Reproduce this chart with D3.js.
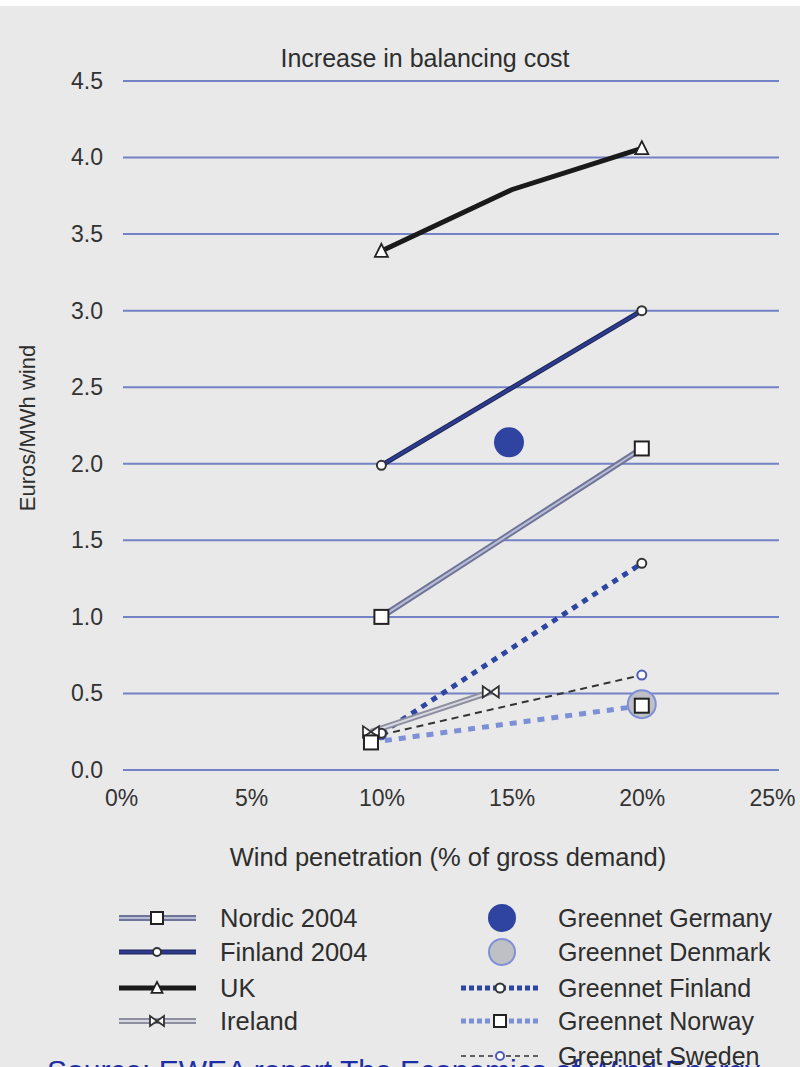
<!DOCTYPE html>
<html><head><meta charset="utf-8">
<script src="https://cdn.jsdelivr.net/npm/d3@7"></script>
<style>
html,body{margin:0;padding:0;background:#fff;}
svg{display:block;}
text{font-family:"Liberation Sans",Arial,sans-serif;}
</style></head>
<body>
<script>
// ---- data ----
const xTicks = [0, 5, 10, 15, 20, 25];
const yTicks = [0, 0.5, 1.0, 1.5, 2.0, 2.5, 3.0, 3.5, 4.0, 4.5];

const nordicX = [10, 20],      nordicY = [1.0, 2.1];
const finlandX = [10, 20],     finlandY = [1.99, 3.0];
const ukX = [10, 15, 20],      ukY = [3.39, 3.79, 4.06];
const irelandX = [9.6, 14.2],  irelandY = [0.25, 0.51];
const germanyX = [14.9],       germanyY = [2.14];
const denmarkX = [20],         denmarkY = [0.43];
const gnFinlandX = [10, 20],   gnFinlandY = [0.24, 1.35];
const norwayX = [9.6, 20],     norwayY = [0.18, 0.42];
const swedenX = [10, 20],      swedenY = [0.23, 0.62];

const legendLeft = ["Nordic 2004", "Finland 2004", "UK", "Ireland"];
const legendRight = ["Greennet Germany", "Greennet Denmark", "Greennet Finland", "Greennet Norway", "Greennet Sweden"];

// ---- setup ----
const W = 800, H = 1067;
const svg = d3.select("body").append("svg").attr("width", W).attr("height", H);
svg.append("rect").attr("x", 0).attr("y", 6).attr("width", W).attr("height", H - 6).attr("fill", "#e8e9e8");

const x = d3.scaleLinear().domain([0, 25]).range([121, 772]);
const y = d3.scaleLinear().domain([0, 4.5]).range([770, 81]);

// gridlines
svg.append("g").selectAll("line").data(yTicks).join("line")
  .attr("x1", x(0) + 2).attr("x2", x(25) + 7)
  .attr("y1", d => y(d)).attr("y2", d => y(d))
  .attr("stroke", "#7482c6").attr("stroke-width", 2);

// y axis labels
const yAxis = svg.append("g").attr("transform", "translate(103,0)")
  .call(d3.axisLeft(y).tickValues(yTicks).tickFormat(d3.format(".1f")).tickSize(0).tickPadding(0));
yAxis.select(".domain").remove();
yAxis.selectAll("text").attr("font-size", 23).attr("fill", "#333")
  .attr("font-family", "'Liberation Sans',Arial,sans-serif");

// x axis labels
const xAxis = svg.append("g").attr("transform", "translate(0,790)")
  .call(d3.axisBottom(x).tickValues(xTicks).tickFormat(d => d + "%").tickSize(0).tickPadding(0));
xAxis.select(".domain").remove();
xAxis.selectAll("text").attr("font-size", 23).attr("fill", "#333")
  .attr("font-family", "'Liberation Sans',Arial,sans-serif");

// titles
svg.append("text").attr("x", 425).attr("y", 67).attr("text-anchor", "middle")
  .attr("font-size", 25).attr("fill", "#2e2e2e").text("Increase in balancing cost");
svg.append("text").attr("x", 448).attr("y", 866).attr("text-anchor", "middle")
  .attr("font-size", 25.5).attr("fill", "#2e2e2e").text("Wind penetration (% of gross demand)");
svg.append("text").attr("transform", "translate(35,428) rotate(-90)").attr("text-anchor", "middle")
  .attr("font-size", 22).attr("fill", "#2e2e2e").text("Euros/MWh wind");

// helpers
const zip = (xs, ys) => xs.map((v, i) => [v, ys[i]]);
const line = d3.line().x(d => x(d[0])).y(d => y(d[1]));
const plot = svg.append("g");

function drawLine(pts, layers) {
  layers.forEach(l => {
    plot.append("path").attr("d", line(pts)).attr("fill", "none")
      .attr("stroke", l.c).attr("stroke-width", l.w)
      .attr("stroke-dasharray", l.dash || null).attr("stroke-linecap", l.cap || "butt");
  });
}
function square(g, cx, cy, s) {
  g.append("rect").attr("x", cx - s / 2).attr("y", cy - s / 2).attr("width", s).attr("height", s)
    .attr("fill", "#fff").attr("stroke", "#222").attr("stroke-width", 2);
}
function circ(g, cx, cy, r, stroke) {
  g.append("circle").attr("cx", cx).attr("cy", cy).attr("r", r)
    .attr("fill", "#fff").attr("stroke", stroke || "#333").attr("stroke-width", 2);
}
function tri(g, cx, cy, s) {
  g.append("path").attr("d", `M${cx},${cy - s * 0.55}L${cx + s / 2},${cy + s * 0.45}L${cx - s / 2},${cy + s * 0.45}Z`)
    .attr("fill", "#fff").attr("stroke", "#222").attr("stroke-width", 1.8);
}
function bowtie(g, cx, cy, s) {
  g.append("path").attr("d", `M${cx - s / 2},${cy - s * 0.35}L${cx},${cy}L${cx - s / 2},${cy + s * 0.35}Z M${cx + s / 2},${cy - s * 0.35}L${cx},${cy}L${cx + s / 2},${cy + s * 0.35}Z`)
    .attr("fill", "#fff").attr("stroke", "#333").attr("stroke-width", 1.8);
}

// styles
const sNordic = [{ c: "#6f7598", w: 6 }, { c: "#b9bdd6", w: 2 }];
const sFinland = [{ c: "#1d2558", w: 5 }, { c: "#2c3b8c", w: 3 }];
const sUK = [{ c: "#1a1a1a", w: 5 }];
const sIreland = [{ c: "#8d8f9e", w: 6 }, { c: "#d8d9e2", w: 2 }];
const sGnFin = [{ c: "#2d45a3", w: 5, dash: "6,6" }];
const sNorway = [{ c: "#7d8fd6", w: 5, dash: "7,7" }];
const sSweden = [{ c: "#333", w: 2, dash: "7,5" }];

// series lines
drawLine(zip(norwayX, norwayY), sNorway);
drawLine(zip(swedenX, swedenY), sSweden);
drawLine(zip(gnFinlandX, gnFinlandY), sGnFin);
drawLine(zip(irelandX, irelandY), sIreland);
drawLine(zip(nordicX, nordicY), sNordic);
drawLine(zip(finlandX, finlandY), sFinland);
drawLine(zip(ukX, ukY), sUK);

// big circles
zip(germanyX, germanyY).forEach(p => plot.append("circle").attr("cx", x(p[0])).attr("cy", y(p[1])).attr("r", 15).attr("fill", "#2f44a0"));
zip(denmarkX, denmarkY).forEach(p => plot.append("circle").attr("cx", x(p[0])).attr("cy", y(p[1])).attr("r", 14).attr("fill", "#bfc0c6").attr("stroke", "#8090d6").attr("stroke-width", 2));

// markers
zip(swedenX, swedenY).forEach(p => circ(plot, x(p[0]), y(p[1]), 4.5, "#4a5cb4"));
zip(gnFinlandX, gnFinlandY).forEach(p => circ(plot, x(p[0]), y(p[1]), 4.5, "#333"));
zip(irelandX, irelandY).forEach(p => bowtie(plot, x(p[0]), y(p[1]), 16));
zip(norwayX, norwayY).forEach(p => square(plot, x(p[0]), y(p[1]), 14));
zip(nordicX, nordicY).forEach(p => square(plot, x(p[0]), y(p[1]), 14));
zip(finlandX, finlandY).forEach(p => circ(plot, x(p[0]), y(p[1]), 4.5, "#333"));
ukX.forEach((v, i) => { if (i !== 1) tri(plot, x(v), y(ukY[i]), 13); });

// source text (cut off at bottom, as in the reference)
svg.append("text").attr("x", 47).attr("y", 1081).attr("font-size", 30).attr("fill", "#1c2ea6")
  .text("Source: EWEA report The Economics of Wind Energy");

// legend
const lg = svg.append("g");
const rowY = [918, 952, 988, 1021, 1056];
const leftStyles = [sNordic, sFinland, sUK, sIreland];
legendLeft.forEach((name, i) => {
  const yy = rowY[i];
  leftStyles[i].forEach(l => lg.append("line").attr("x1", 119).attr("x2", 196).attr("y1", yy).attr("y2", yy)
    .attr("stroke", l.c).attr("stroke-width", l.w));
  if (i === 0) square(lg, 157, yy, 12);
  if (i === 1) circ(lg, 157, yy, 4, "#333");
  if (i === 2) tri(lg, 157, yy, 11);
  if (i === 3) bowtie(lg, 157, yy, 14);
  lg.append("text").attr("x", 220).attr("y", yy + 9).attr("font-size", 25.5).attr("fill", "#2e2e2e").text(name);
});
const rightStyles = [null, null, sGnFin, sNorway, sSweden];
legendRight.forEach((name, i) => {
  const yy = rowY[i];
  if (i === 0) lg.append("circle").attr("cx", 502).attr("cy", yy).attr("r", 14).attr("fill", "#2f44a0");
  if (i === 1) lg.append("circle").attr("cx", 502).attr("cy", yy).attr("r", 13).attr("fill", "#bfc0c6").attr("stroke", "#8090d6").attr("stroke-width", 2);
  if (rightStyles[i]) {
    rightStyles[i].forEach(l => lg.append("line").attr("x1", 461).attr("x2", 541).attr("y1", yy).attr("y2", yy)
      .attr("stroke", l.c).attr("stroke-width", i === 4 ? 1.6 : l.w).attr("stroke-dasharray", i === 4 ? "5,4" : "5,3"));
    if (i === 2) circ(lg, 500, yy, 4.5, "#333");
    if (i === 3) square(lg, 500, yy, 12);
    if (i === 4) circ(lg, 500, yy, 4, "#4a5cb4");
  }
  lg.append("text").attr("x", 558).attr("y", yy + 9).attr("font-size", 25).attr("fill", "#2e2e2e").text(name);
});
</script>
</body></html>
